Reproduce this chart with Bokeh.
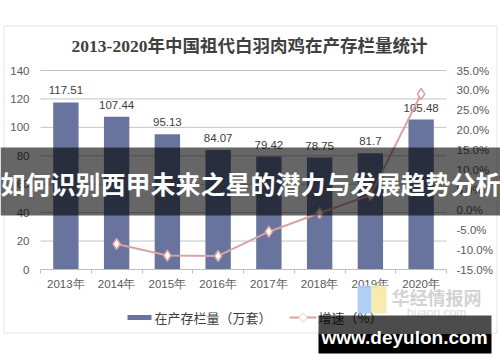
from bokeh.plotting import figure
from bokeh.models import (Range1d, LinearAxis, FixedTicker, ColumnDataSource, Label,
                          BoxAnnotation, PolyAnnotation, PrintfTickFormatter)
from bokeh.core.properties import value
from bokeh.embed import file_html
from bokeh.resources import INLINE

# ---------------- data ----------------
title_text = "2013-2020年中国祖代白羽肉鸡在产存栏量统计"
years = ["2013年", "2014年", "2015年", "2016年", "2017年", "2018年", "2019年", "2020年"]
stock = [117.51, 107.44, 95.13, 84.07, 79.42, 78.75, 81.7, 105.48]
growth_years = years[1:]
growth = [-8.6, -11.5, -11.6, -5.5, -0.8, 3.7, 29.1]
left_ticks = [0, 20, 40, 60, 80, 100, 120, 140]
right_ticks = [-15, -10, -5, 0, 5, 10, 15, 20, 25, 30, 35]
series_names = ["在产存栏量（万套）", "增速（%）"]
banner_text = "如何识别西甲未来之星的潜力与发展趋势分析"
watermark_text = "www.deyulon.com"
logo_text = "华经情报网"
logo_sub = "huaon.com"

# ---------------- styles ----------------
BAR = "#68749d"
LINE = "#d9a3a3"
TXT = "#404040"
AX = "#595959"
SANS = "Liberation Sans"
CJK = "Noto Sans CJK SC"
W, H = 500, 362

# plot area in canvas pixels
PL, PR, PT, PB = 40, 446, 70, 269
n = len(years)
y0, y1 = left_ticks[0], left_ticks[-1]
r0, r1 = right_ticks[0], right_ticks[-1]

def DX(px):
    return (px - PL) / (PR - PL) * n

def DY(py):
    return y0 + (PB - py) / (PB - PT) * (y1 - y0)

def PY(py):
    return r0 + (PB - py) / (PB - PT) * (r1 - r0)

p = figure(width=W, height=H, output_backend="svg", toolbar_location=None, title=None,
           x_range=Range1d(DX(0), DX(W)), y_range=Range1d(DY(H), DY(0)),
           x_axis_location=None, y_axis_location=None, min_border=0)
p.extra_y_ranges = {"pct": Range1d(PY(H), PY(0))}
p.outline_line_color = None
p.background_fill_color = "white"
p.border_fill_color = "white"
p.xgrid.visible = False
p.ygrid.visible = False

xc = [i + 0.5 for i in range(n)]
gx = [years.index(y) + 0.5 for y in growth_years]

# chart border
p.add_layout(BoxAnnotation(left=DX(3.5), right=DX(496.5), top=DY(25.5), bottom=DY(332.5),
                           fill_alpha=0, line_color="#a6a6a6", line_width=1, level="underlay"))

# horizontal gridlines (plot area only)
gl = left_ticks[1:]
p.segment(x0=[0] * len(gl), x1=[n] * len(gl), y0=gl, y1=gl, line_color="#c4c4c4", line_width=1)

# axes with fixed locations
la = LinearAxis(ticker=FixedTicker(ticks=left_ticks), fixed_location=0, bounds=(y0, y1))
la.axis_line_color = None
la.major_tick_line_color = None
la.minor_tick_line_color = None
la.major_label_text_font = SANS
la.major_label_text_font_size = "11.5px"
la.major_label_text_color = AX
la.major_label_standoff = 5
p.add_layout(la, "left")

ra = LinearAxis(y_range_name="pct", ticker=FixedTicker(ticks=right_ticks),
                formatter=PrintfTickFormatter(format="%.1f%%"), fixed_location=n, bounds=(r0, r1))
ra.axis_line_color = None
ra.major_tick_line_color = None
ra.minor_tick_line_color = None
ra.major_label_text_font = SANS
ra.major_label_text_font_size = "11.5px"
ra.major_label_text_color = AX
ra.major_label_standoff = 4
p.add_layout(ra, "right")

ba = LinearAxis(ticker=FixedTicker(ticks=xc, minor_ticks=list(range(n + 1))),
                fixed_location=y0, bounds=(0, n))
ba.major_label_overrides = {x: y for x, y in zip(xc, years)}
ba.axis_line_color = "#bfbfbf"
ba.major_tick_in = 0
ba.major_tick_out = 0
ba.minor_tick_in = 0
ba.minor_tick_out = 4
ba.minor_tick_line_color = "#bfbfbf"
ba.major_label_text_font = SANS
ba.major_label_text_font_size = "11.5px"
ba.major_label_text_color = AX
ba.major_label_standoff = 4
p.add_layout(ba, "below")

# bars
src = ColumnDataSource(dict(x=xc, top=stock, lab=[str(v) for v in stock]))
p.vbar(x="x", top="top", bottom=y0, width=0.5, source=src, fill_color=BAR, line_color=None)
p.text(x="x", y="top", text="lab", source=src, text_align="center", text_baseline="bottom",
       y_offset=-8, text_font=value(SANS), text_font_size="11.5px", text_color=TXT)

# growth line
gsrc = ColumnDataSource(dict(x=gx, y=growth))
p.line(x="x", y="y", source=gsrc, y_range_name="pct", line_color=LINE, line_width=2)
p.scatter(x="x", y="y", source=gsrc, y_range_name="pct", marker="diamond", size=11,
          fill_color="white", line_color=LINE, line_width=1.5)

# title
p.add_layout(Label(x=DX(249), y=DY(45), text=title_text, text_align="center",
                   text_baseline="middle", text_font="Liberation Serif, Noto Sans CJK SC",
                   text_font_style="bold", text_font_size="17.5px", text_color=TXT))

# legend (manual)
p.add_layout(BoxAnnotation(left=DX(127), right=DX(151), top=DY(314.5), bottom=DY(319.5),
                           fill_color=BAR, fill_alpha=1, line_color=None))
p.add_layout(Label(x=DX(154), y=DY(317), text=series_names[0], text_baseline="middle",
                   text_font=CJK, text_font_size="13px", text_color=TXT))
p.add_layout(BoxAnnotation(left=DX(289), right=DX(316), top=DY(316), bottom=DY(318),
                           fill_color=LINE, fill_alpha=1, line_color=None))
cx, cy, r = 302.5, 317, 4.5
p.add_layout(PolyAnnotation(xs=[DX(cx - r), DX(cx), DX(cx + r), DX(cx)],
                            ys=[DY(cy), DY(cy - r), DY(cy), DY(cy + r)],
                            fill_color="white", fill_alpha=1, line_color=LINE, line_width=1.5))
p.add_layout(Label(x=DX(318), y=DY(317), text=series_names[1], text_baseline="middle",
                   text_font=CJK, text_font_size="13px", text_color=TXT))

# faint logo watermark
p.add_layout(BoxAnnotation(left=DX(357), right=DX(371), top=DY(285), bottom=DY(313),
                           fill_color="#a9cdf5", fill_alpha=0.9, line_color=None))
p.add_layout(BoxAnnotation(left=DX(371), right=DX(386), top=DY(285), bottom=DY(313),
                           fill_color="#f7e9a6", fill_alpha=0.9, line_color=None))
p.add_layout(Label(x=DX(436), y=DY(296), text=logo_text, text_align="center",
                   text_baseline="middle", text_font=CJK, text_font_style="bold",
                   text_font_size="18px", text_color="#d3d3d3"))
p.add_layout(Label(x=DX(436), y=DY(312), text=logo_sub, text_align="center",
                   text_baseline="middle", text_font=SANS, text_font_size="12px",
                   text_color="#dcdcdc"))

# banner overlay
p.add_layout(BoxAnnotation(left=DX(0), right=DX(W), top=DY(147), bottom=DY(215),
                           fill_color="black", fill_alpha=0.6, line_color=None))
p.add_layout(Label(x=DX(250), y=DY(182), text=banner_text, text_align="center",
                   text_baseline="middle", text_font=CJK, text_font_style="bold",
                   text_font_size="25px", text_color="white"))

# site watermark
p.add_layout(BoxAnnotation(left=DX(318), right=DX(491), top=DY(315), bottom=DY(333),
                           fill_color="black", fill_alpha=0.7, line_color=None))
p.add_layout(BoxAnnotation(left=DX(318), right=DX(491), top=DY(333), bottom=DY(353),
                           fill_color="black", fill_alpha=1, line_color=None))
p.add_layout(Label(x=DX(404), y=DY(337), text=watermark_text, text_align="center",
                   text_baseline="middle", text_font=SANS, text_font_style="bold",
                   text_font_size="19px", text_color="white"))

open("out.html", "w").write(file_html(p, INLINE))
